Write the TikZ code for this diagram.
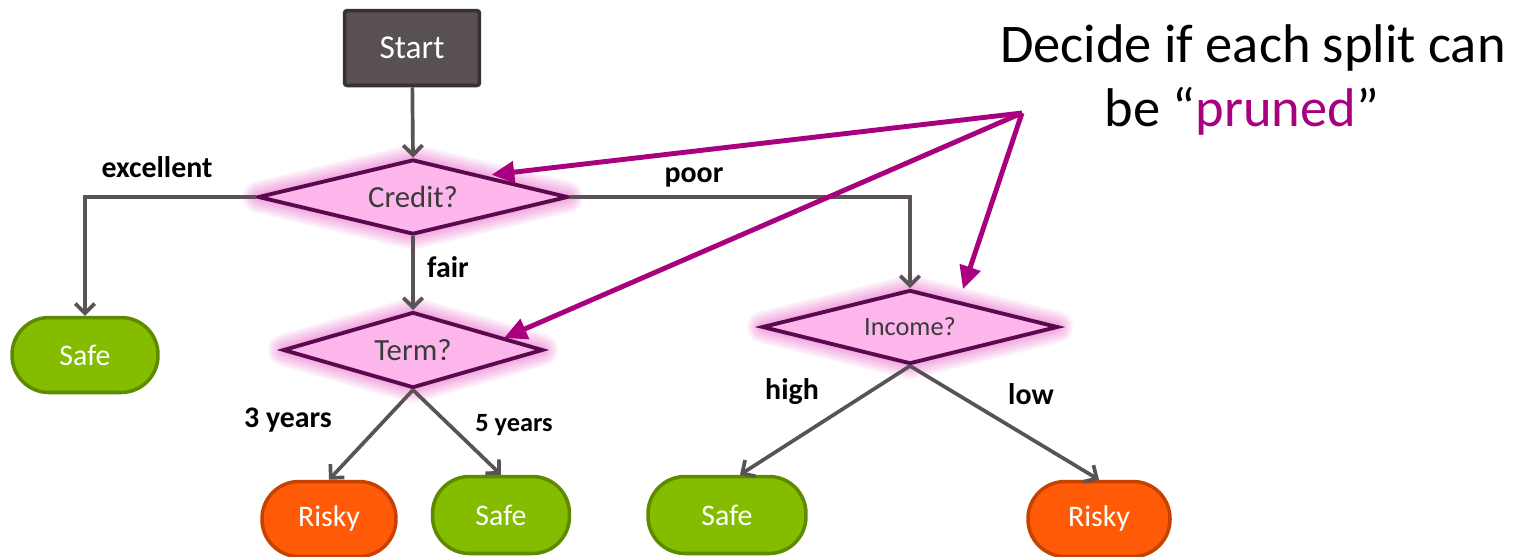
\documentclass[tikz,border=0pt]{standalone}
\usepackage{fontspec}
\setmainfont{Carlito}
\usetikzlibrary{shapes.geometric,arrows.meta}
\definecolor{flowgray}{HTML}{595354}
\definecolor{startfill}{HTML}{595051}
\definecolor{startedge}{HTML}{363233}
\definecolor{decfill}{HTML}{FDB6EC}
\definecolor{decedge}{HTML}{5A0A4C}
\definecolor{glowpink}{HTML}{E44FC0}
\definecolor{safefill}{HTML}{84BC00}
\definecolor{safeedge}{HTML}{5E8A00}
\definecolor{riskyfill}{HTML}{FF5A08}
\definecolor{riskyedge}{HTML}{C54200}
\definecolor{prunecol}{HTML}{A8007F}
\definecolor{qtext}{HTML}{3A3A3A}
\newcommand{\fsz}[1]{\fontsize{#1}{#1}\selectfont}
\begin{document}
\begin{tikzpicture}[x=0.02cm,y=-0.02cm,
  halo/.style={preaction={draw=glowpink, draw opacity=0.085, line width=#1, line join=round}},
  startbox/.style={draw=startedge, fill=startfill, line width=2pt, rounded corners=1.5pt,
    minimum width=2.7cm, minimum height=1.5cm, inner sep=0pt, text=white, font=\fsz{19}},
  decision/.style={diamond, aspect=4, draw=decedge, fill=decfill, line width=2.2pt,
    inner sep=0pt, text=qtext, font=\fsz{17.5},
    halo=18pt, halo=15.5pt, halo=13pt, halo=10.5pt, halo=8pt, halo=6pt, halo=4pt},
  leafbox/.style={rectangle, rounded corners=0.74cm, line width=2pt, inner sep=0pt,
    minimum height=1.5cm, text=white, font=\fsz{17}},
  safe/.style={leafbox, draw=safeedge, fill=safefill},
  risky/.style={leafbox, draw=riskyedge, fill=riskyfill},
  flow/.style={draw=flowgray, line width=2.1pt, -{Straight Barb[length=5.5pt,width=11pt,line width=2.1pt]}},
  prune/.style={draw=prunecol, line width=2.8pt, -{Triangle[length=13pt,width=12pt]}},
  branch/.style={font=\bfseries\fsz{17}, text=black, inner sep=0pt}
]
\useasboundingbox (0,0) rectangle (1516,556);

% decision tree
\node[startbox] (start) at (412,48) {Start};
\node[decision, minimum width=6.2cm, minimum height=1.5cm] (credit) at (413,197) {Credit?};
\node[decision, minimum width=5.2cm, minimum height=1.52cm] (term) at (413,350) {Term?};
\node[decision, minimum width=5.92cm, minimum height=1.48cm, font=\fsz{15}] (income) at (910,327) {Income?};

\node[safe, minimum width=2.92cm] (safeA) at (85,355) {Safe};
\node[risky, minimum width=2.68cm] (riskyA) at (329,519) {Risky};
\node[safe, minimum width=2.74cm, minimum height=1.54cm] (safeB) at (501,515) {Safe};
\node[safe, minimum width=3.16cm, minimum height=1.54cm] (safeC) at (727,515) {Safe};
\node[risky, minimum width=2.84cm] (riskyB) at (1099,519) {Risky};

\draw[flow] (start) -- (credit.north);
\draw[flow] (credit.west) -| (safeA.north);
\draw[flow] (credit.east) -| (income.north);
\draw[flow] (credit.south) -- (term.north);
\draw[flow] (term.south) -- (riskyA.north);
\draw[flow] (term.south) -- (safeB.north);
\draw[flow] (income.south) -- ([xshift=0.26cm]safeC.north);
\draw[flow] (income.south) -- (riskyB.north);

% branch labels
\node[branch] at (157,167) {excellent};
\node[branch] at (694,177) {poor};
\node[branch] at (448,267) {fair};
\node[branch] at (288,420) {3 years};
\node[branch, font=\bfseries\fsz{15}] at (514,425) {5 years};
\node[branch] at (792,392) {high};
\node[branch] at (1031,394) {low};

% note and pointers
\node[anchor=base, font=\fsz{31}, inner sep=0pt] (noteA) at (1253,62) {Decide if each split can};
\node[anchor=base, font=\fsz{31}, inner sep=0pt] (noteB) at (1242,126) {be “\textcolor{prunecol}{pruned}”};
\coordinate (apex) at (1022,113);
\draw[prune] (apex) -- ([yshift=0.05cm]credit.north east);
\draw[prune] (apex) -- ([xshift=0.5cm,yshift=-0.16cm]term.north east);
\draw[prune] (apex) -- ([xshift=-0.44cm,yshift=0.37cm]income.north east);
\end{tikzpicture}
\end{document}
